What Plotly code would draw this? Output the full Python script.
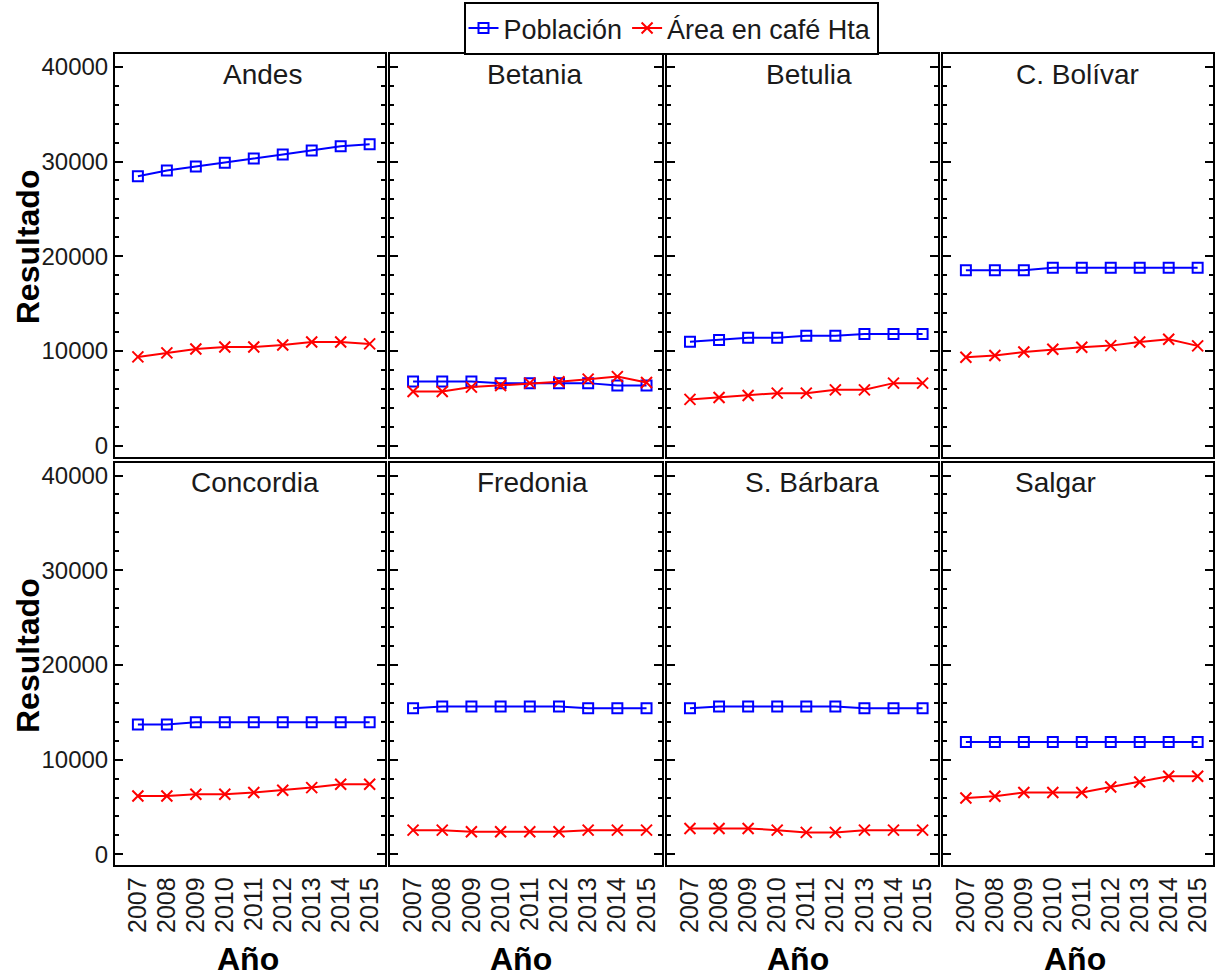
import plotly.graph_objects as go

years = [2007, 2008, 2009, 2010, 2011, 2012, 2013, 2014, 2015]
municipios = ["Andes", "Betania", "Betulia", "C. Bolívar",
              "Concordia", "Fredonia", "S. Bárbara", "Salgar"]

pob_andes = [28450, 29050, 29470, 29860, 30320, 30740, 31160, 31610, 31820]
cafe_andes = [9370, 9790, 10210, 10420, 10420, 10630, 10950, 10950, 10740]
pob_betania = [6770, 6770, 6770, 6600, 6600, 6600, 6600, 6350, 6350]
cafe_betania = [5720, 5720, 6180, 6350, 6600, 6740, 7020, 7290, 6660]
pob_betulia = [10980, 11160, 11400, 11400, 11610, 11610, 11790, 11790, 11790]
cafe_betulia = [4880, 5090, 5300, 5540, 5540, 5890, 5890, 6600, 6600]
pob_bolivar = [18530, 18530, 18530, 18770, 18770, 18770, 18770, 18770, 18770]
cafe_bolivar = [9330, 9510, 9890, 10170, 10390, 10560, 10950, 11230, 10530]
pob_concordia = [13720, 13720, 13960, 13960, 13960, 13960, 13960, 13960, 13960]
cafe_concordia = [6170, 6170, 6350, 6350, 6530, 6770, 7050, 7400, 7400]
pob_fredonia = [15440, 15610, 15610, 15610, 15610, 15610, 15440, 15440, 15440]
cafe_fredonia = [2560, 2560, 2390, 2390, 2390, 2390, 2560, 2560, 2560]
pob_barbara = [15440, 15610, 15610, 15610, 15610, 15610, 15440, 15440, 15440]
cafe_barbara = [2740, 2740, 2740, 2560, 2320, 2320, 2560, 2560, 2560]
pob_salgar = [11860, 11860, 11860, 11860, 11860, 11860, 11860, 11860, 11860]
cafe_salgar = [5960, 6140, 6530, 6530, 6530, 7120, 7650, 8250, 8250]

poblacion = [pob_andes, pob_betania, pob_betulia, pob_bolivar,
             pob_concordia, pob_fredonia, pob_barbara, pob_salgar]
cafe = [cafe_andes, cafe_betania, cafe_betulia, cafe_bolivar,
        cafe_concordia, cafe_fredonia, cafe_barbara, cafe_salgar]

y_ticks = [0, 10000, 20000, 30000, 40000]
y_ticktext = ["0", "10000", "20000", "30000", "40000"]
serie_nombres = ["Población", "Área en café Hta"]

W, H = 1215, 978
FONT = "Liberation Sans, Arial, sans-serif"
TXT = "#1a1a1a"
BLUE = "#0000ff"
RED = "#ff0000"

col_px = [(115, 385), (390, 662), (667, 938), (943, 1213)]
row_px = [(53, 457), (463, 867)]
title_cx = [262, 534, 809, 1077, 255, 532, 812, 1055]
title_cy = [74, 483]

fig = go.Figure()
layout = {}
annotations = []

for i, name in enumerate(municipios):
    r, c = divmod(i, 4)
    k = i + 1
    xa = "x" if k == 1 else f"x{k}"
    ya = "y" if k == 1 else f"y{k}"
    fig.add_trace(go.Scatter(
        x=years, y=poblacion[i], xaxis=xa, yaxis=ya, mode="lines+markers",
        name=serie_nombres[0], legendgroup="p", showlegend=(i == 0),
        line=dict(color=BLUE, width=2),
        marker=dict(symbol="square-open", size=10, color=BLUE,
                    line=dict(color=BLUE, width=2))))
    fig.add_trace(go.Scatter(
        x=years, y=cafe[i], xaxis=xa, yaxis=ya, mode="lines+markers",
        name=serie_nombres[1], legendgroup="c", showlegend=(i == 0),
        line=dict(color=RED, width=2),
        marker=dict(symbol="x-thin-open", size=11, color=RED,
                    line=dict(color=RED, width=2))))
    x0, x1 = col_px[c]
    y0, y1 = row_px[r]
    xkey = "xaxis" if k == 1 else f"xaxis{k}"
    ykey = "yaxis" if k == 1 else f"yaxis{k}"
    layout[xkey] = dict(
        domain=[x0 / W, x1 / W], anchor=ya, range=[2006.21, 2015.53],
        showline=True, mirror=True, linecolor="black", linewidth=2,
        showgrid=False, zeroline=False, ticks="",
        tickmode="array", tickvals=years, ticktext=[str(y) for y in years],
        showticklabels=(r == 1), tickangle=-90,
        tickfont=dict(family=FONT, size=25, color=TXT))
    layout[ykey] = dict(
        domain=[1 - y1 / H, 1 - y0 / H], anchor=xa, range=[-1158, 41368],
        showline=True, mirror="ticks", linecolor="black", linewidth=2,
        showgrid=False, zeroline=False, ticks="inside", ticklen=8,
        tickwidth=2, tickcolor="black",
        tickmode="array", tickvals=y_ticks, ticktext=y_ticktext,
        showticklabels=(c == 0),
        minor=dict(dtick=2000, tick0=0, ticks="inside", ticklen=4,
                   tickwidth=2, tickcolor="black", showgrid=False),
        tickfont=dict(family=FONT, size=24, color=TXT))
    annotations.append(dict(
        text=name, x=title_cx[i] / W, y=1 - title_cy[r] / H,
        xref="paper", yref="paper", showarrow=False,
        xanchor="center", yanchor="middle",
        font=dict(family=FONT, size=28, color=TXT)))

for r, cy in enumerate([247, 657]):
    annotations.append(dict(
        text="<b>Resultado</b>", x=28 / W, y=1 - cy / H,
        xref="paper", yref="paper", showarrow=False, textangle=-90,
        xanchor="center", yanchor="middle",
        font=dict(family=FONT, size=32, color="black")))

for cx in [248, 521, 798, 1075]:
    annotations.append(dict(
        text="<b>Año</b>", x=cx / W, y=1 - 961 / H,
        xref="paper", yref="paper", showarrow=False,
        xanchor="center", yanchor="middle",
        font=dict(family=FONT, size=32, color="black")))

fig.update_layout(
    width=W, height=H, margin=dict(l=0, r=0, t=0, b=0),
    paper_bgcolor="white", plot_bgcolor="white",
    font=dict(family=FONT, color=TXT),
    showlegend=True,
    legend=dict(orientation="h", x=671 / W, y=1 - 1 / H,
                xanchor="center", yanchor="top",
                bordercolor="black", borderwidth=2, bgcolor="white",
                font=dict(family=FONT, size=27, color=TXT),
                itemwidth=30, tracegroupgap=0),
    annotations=annotations,
    **layout)

fig.write_html(
    "out.html",
    config={"displayModeBar": False},
    post_script="document.body.style.margin='0';"
                "document.body.style.overflow='hidden';")
